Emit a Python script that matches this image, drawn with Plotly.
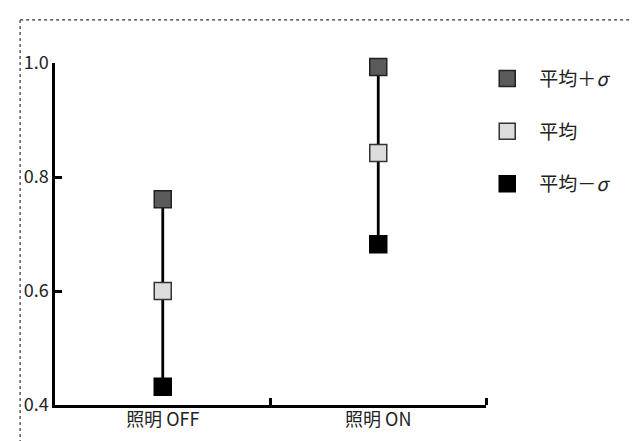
import plotly.graph_objects as go

categories = ["照明 OFF", "照明 ON"]
series_names = ["平均＋<i>σ</i>", "平均", "平均－<i>σ</i>"]
mean_plus_sigma = [0.761, 0.993]
mean_values = [0.600, 0.842]
mean_minus_sigma = [0.432, 0.682]
y_ticks = [0.4, 0.6, 0.8, 1.0]

xpos = list(range(len(categories)))
FONT = "Noto Sans CJK JP"

fig = go.Figure()

# vertical connectors
for i in xpos:
    fig.add_trace(go.Scatter(
        x=[xpos[i], xpos[i]], y=[mean_minus_sigma[i], mean_plus_sigma[i]],
        mode="lines", line=dict(color="black", width=2.8),
        showlegend=False, hoverinfo="skip", cliponaxis=False))

styles = [
    dict(color="#5a5a5a", line=dict(color="#222222", width=1.5)),
    dict(color="#dcdcdc", line=dict(color="#333333", width=1.5)),
    dict(color="#000000", line=dict(color="#000000", width=1.5)),
]
for name, vals, st, g in zip(series_names, [mean_plus_sigma, mean_values, mean_minus_sigma], styles, ["a", "b", "c"]):
    fig.add_trace(go.Scatter(
        x=xpos, y=vals, mode="markers", name=name, legendgroup=g, cliponaxis=False,
        marker=dict(symbol="square", size=17, color=st["color"], line=st["line"])))

fig.update_layout(
    width=637, height=441,
    margin=dict(l=47, r=159, t=55, b=44),
    paper_bgcolor="white", plot_bgcolor="white",
    font=dict(family=FONT, size=15, color="#222222"),
    showlegend=True,
    legend=dict(x=0.975, y=1.01, xanchor="left", yanchor="top",
                tracegroupgap=25, itemwidth=54,
                font=dict(family=FONT, size=19, color="#222222"),
                bgcolor="rgba(0,0,0,0)"),
    xaxis=dict(range=[-0.5, 1.5], tickvals=xpos, ticktext=categories,
               showline=True, linecolor="black", linewidth=2.5,
               ticks="", showgrid=False, zeroline=False, ticklabelstandoff=-3,
               tickfont=dict(family=FONT, size=18, color="#222222"),
               minor=dict(tickmode="array", tickvals=[0.5, 1.5], ticks="inside",
                          ticklen=7, tickwidth=2.5, tickcolor="black", showgrid=False)),
    yaxis=dict(range=[0.4, 1.0], tickvals=y_ticks, ticktext=[f"{v:.1f}" for v in y_ticks],
               showline=True, linecolor="black", linewidth=2.5,
               ticks="inside", ticklen=7, tickwidth=2.5, tickcolor="black",
               showgrid=False, zeroline=False,
               tickfont=dict(family=FONT, size=18, color="#222222")),
)

# outer frame (top and left)
fig.add_shape(type="line", xref="paper", yref="paper",
              x0=-0.081, x1=1.36, y0=1.126, y1=1.126,
              line=dict(color="#333333", width=1.2, dash="dot"))
fig.add_shape(type="line", xref="paper", yref="paper",
              x0=-0.081, x1=-0.081, y0=1.126, y1=-0.2,
              line=dict(color="#333333", width=1.2, dash="dot"))

fig.write_html("out.html")
